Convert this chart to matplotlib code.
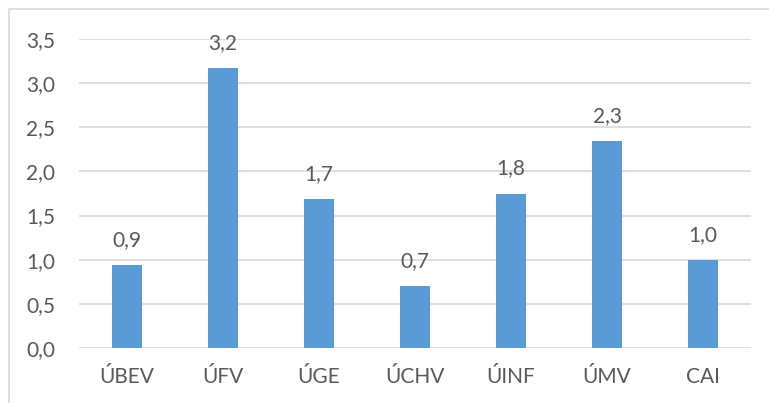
import matplotlib
matplotlib.use('Agg')
import matplotlib.pyplot as plt
from matplotlib.patches import Rectangle

categories = ['ÚBEV', 'ÚFV', 'ÚGE', 'ÚCHV', 'ÚINF', 'ÚMV', 'CAI']
values = [0.94, 3.17, 1.69, 0.70, 1.75, 2.34, 1.00]
yticks = [0.0, 0.5, 1.0, 1.5, 2.0, 2.5, 3.0, 3.5]

plt.rcParams['font.family'] = ['Lato', 'DejaVu Sans']
txt = '#595959'
fs = 15

fig = plt.figure(figsize=(7.69, 4.03), dpi=100)
# light frame of the chart area (only top/left visible in the crop)
fig.patches.append(Rectangle((9 / 769, -0.1), 1.2, 1 - 9 / 403 + 0.1,
                             transform=fig.transFigure, fill=False,
                             edgecolor='#D9D9D9', linewidth=1.2))

ax = fig.add_axes([79 / 769, 1 - 348 / 403, (751 - 79) / 769, (348 - 39) / 403])
x = range(len(categories))
bars = ax.bar(x, values, width=0.31, color='#5B9BD5', zorder=3)

for xi, v in zip(x, values):
    ax.text(xi, v + 0.17, f'{v:.1f}'.replace('.', ','), ha='center', va='bottom',
            fontsize=fs, color=txt)

ax.set_xlim(-0.5, len(categories) - 0.5)
ax.set_ylim(0, 3.5)
ax.set_yticks(yticks)
ax.set_yticklabels([f'{t:.1f}'.replace('.', ',') for t in yticks])
ax.set_xticks(list(x))
ax.set_xticklabels(categories)
ax.tick_params(axis='both', length=0, labelsize=fs, colors=txt)
ax.tick_params(axis='y', pad=17)
ax.tick_params(axis='x', pad=14)
ax.grid(axis='y', color='#D9D9D9', linewidth=1.2, zorder=0)
for s in ax.spines.values():
    s.set_visible(False)

fig.savefig('out.png', dpi=100)
